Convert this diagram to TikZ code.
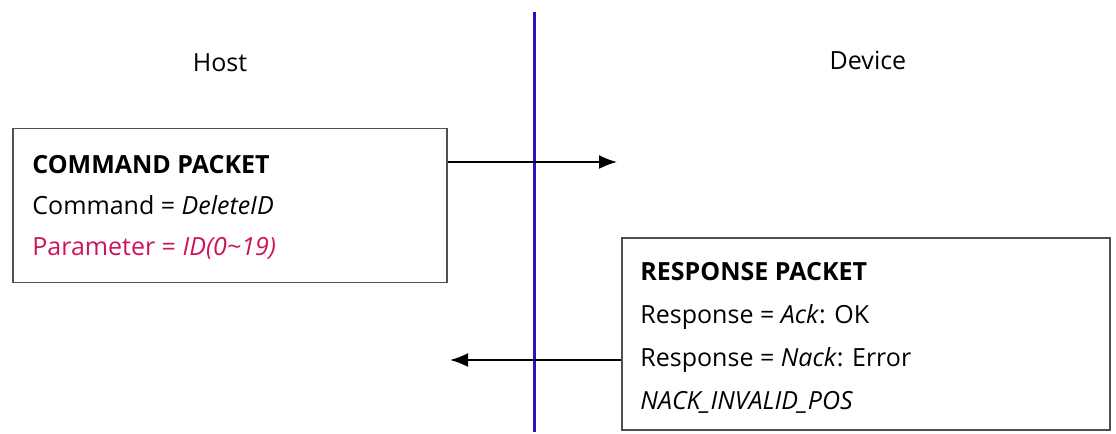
\documentclass[tikz,border=0pt]{standalone}
\usepackage{fontspec}
\setmainfont{Open Sans}
\usetikzlibrary{arrows.meta}
\definecolor{wire}{RGB}{40,20,190}
\definecolor{param}{RGB}{205,20,90}
\definecolor{frame}{RGB}{80,80,80}
\tikzset{
  packet/.style={draw=frame, line width=0.9pt, inner sep=0pt},
  line/.style={anchor=base west, inner sep=0pt, font=\fontsize{12.5}{15}\selectfont},
  msg/.style={line width=0.9pt, -{Latex[length=9pt,width=7pt]}}
}
\begin{document}
\begin{tikzpicture}[x=0.5pt, y=-0.5pt]
      \useasboundingbox (0,0) rectangle (1116,434);
      % the line between both sides
      \coordinate (top) at (534,12);
      \coordinate (bot) at (534,432);
      \draw [wire, line width=1.5pt] (top) -- (bot);
      \node [line, anchor=base] (host) at (220,71) {Host};
      \node [line, anchor=base] (dev) at (868,69) {Device};
      % command packet
      \node [packet, minimum width=217pt, minimum height=77pt] (cmd) at (230,205.5) {};
      \node [line] (cmd1) at (32,173) {\textbf{COMMAND PACKET}};
      \node [line] (cmd2) at (32,214) {Command = \textit{DeleteID}};
      \node [line, text=param] (cmd3) at (32,255) {Parameter = \textit{ID(0\textasciitilde19)}};
      % response packet
      \node [packet, minimum width=244pt, minimum height=96pt] (rsp) at (866,334) {};
      \node [line] (rsp1) at (640,280) {\textbf{RESPONSE PACKET}};
      \node [line] (rsp2) at (640,323) {Response = \textit{Ack}: OK};
      \node [line] (rsp3) at (640,366) {Response = \textit{Nack}: Error};
      \node [line] (rsp4) at (640,409) {\textit{NACK\_INVALID\_POS}};
      \coordinate (to dev) at (617,162);
      \coordinate (to host) at (450,360);
      \draw [msg] (cmd.east |- to dev) -- (to dev);
      \draw [msg] (rsp.west |- to host) -- (to host);
\end{tikzpicture}
\end{document}
